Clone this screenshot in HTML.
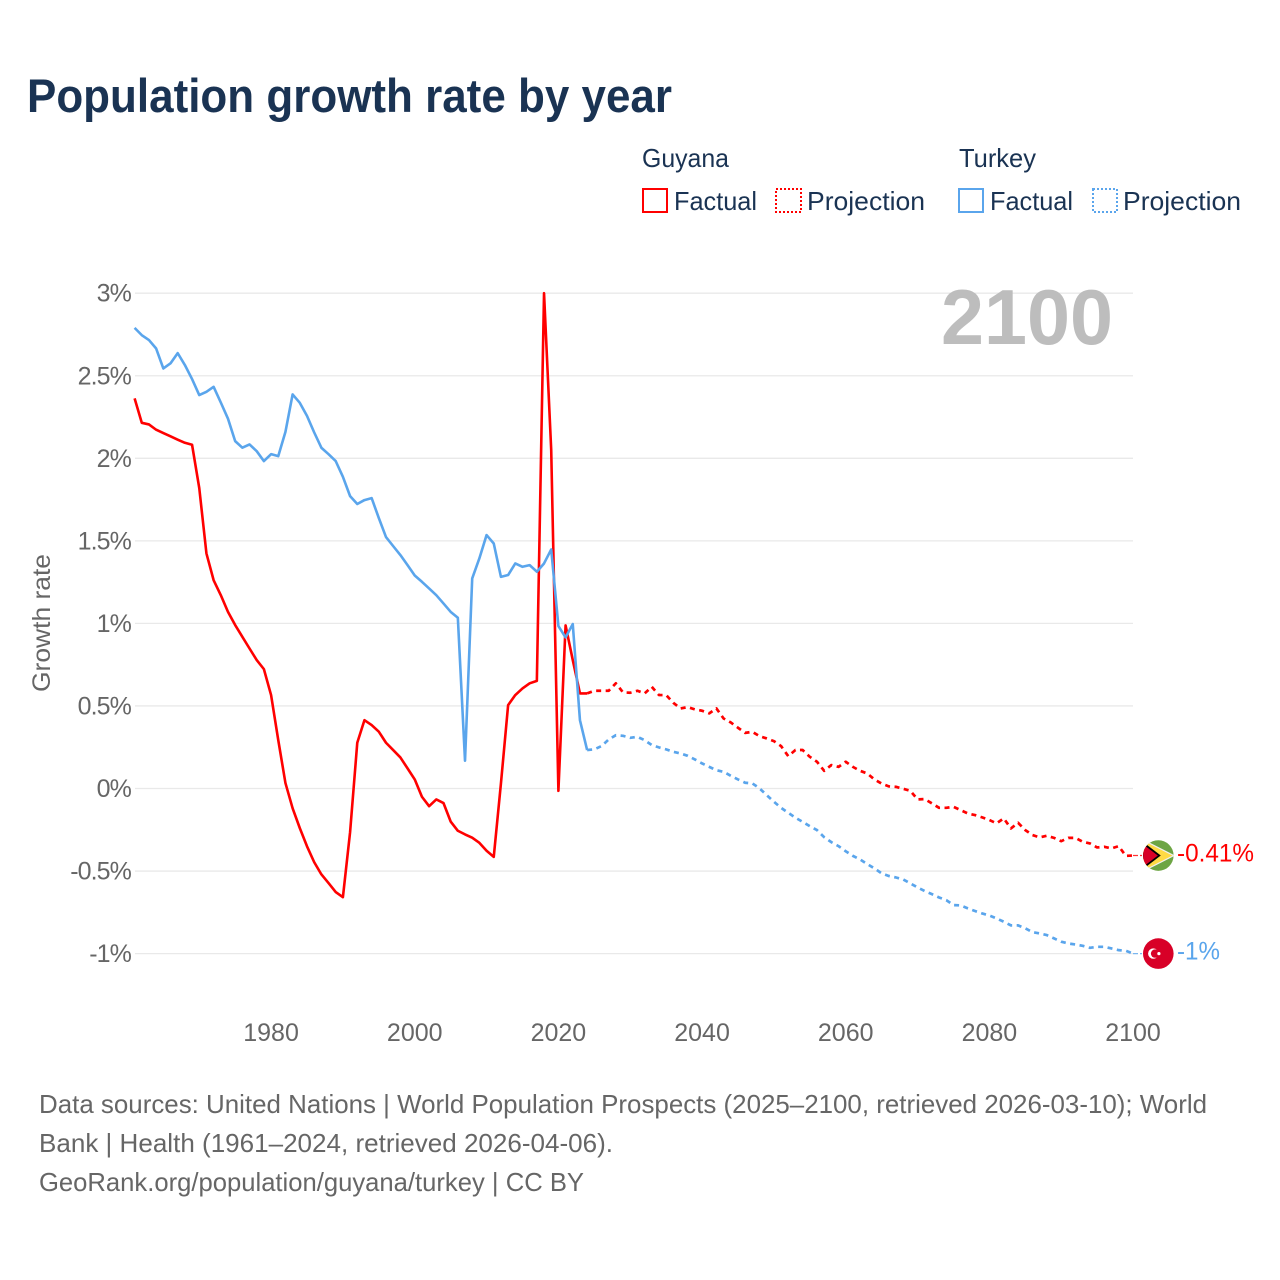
<!DOCTYPE html>
<html lang="en">
<head>
<meta charset="utf-8">
<title>Population growth rate by year</title>
<style>
  html, body { margin: 0; padding: 0; background: #fff; }
  svg { display: block; font-family: "Liberation Sans", sans-serif; }
  .tick { font-size: 25px; fill: #666; }
  .ytick { letter-spacing: -0.9px; }
  .legend { font-size: 26px; fill: #1a3353; }
  .foot { font-size: 26px; fill: #666; }
</style>
</head>
<body>
<svg id="chart" xmlns="http://www.w3.org/2000/svg" width="1280" height="1280" viewBox="0 0 1280 1280">
  <rect width="1280" height="1280" fill="#fff"/>
  <text x="27" y="112" font-size="47" font-weight="700" fill="#1a3353" textLength="645" lengthAdjust="spacingAndGlyphs">Population growth rate by year</text>

  <g>
    <text class="legend" x="642" y="167" textLength="87" lengthAdjust="spacingAndGlyphs">Guyana</text>
    <text class="legend" x="959" y="167" textLength="77" lengthAdjust="spacingAndGlyphs">Turkey</text>
    <rect x="643" y="189" width="24" height="23" fill="none" stroke="#ff0000" stroke-width="2"/>
    <text class="legend" x="674" y="210" textLength="83" lengthAdjust="spacingAndGlyphs">Factual</text>
    <rect x="776" y="189" width="25" height="23" fill="none" stroke="#ff0000" stroke-width="2" stroke-dasharray="2,2"/>
    <text class="legend" x="807" y="210" textLength="118" lengthAdjust="spacingAndGlyphs">Projection</text>
    <rect x="959" y="189" width="24" height="23" fill="none" stroke="#5aa5ec" stroke-width="2"/>
    <text class="legend" x="990" y="210" textLength="83" lengthAdjust="spacingAndGlyphs">Factual</text>
    <rect x="1093" y="189" width="24" height="23" fill="none" stroke="#5aa5ec" stroke-width="2" stroke-dasharray="2,2"/>
    <text class="legend" x="1123" y="210" textLength="118" lengthAdjust="spacingAndGlyphs">Projection</text>
  </g>

  <g id="grid"></g>
  <g id="yticks"></g>
  <g id="xticks"></g>

  <text transform="translate(50,692) rotate(-90)" font-size="25" fill="#666" textLength="138" lengthAdjust="spacingAndGlyphs">Growth rate</text>
  <text x="941" y="344" font-size="78" font-weight="700" fill="#bdbdbd" textLength="172" lengthAdjust="spacingAndGlyphs">2100</text>

  <g id="series"></g>

  <defs>
    <clipPath id="flag-clip"><circle cx="0" cy="0" r="15.3"/></clipPath>
  </defs>
  <g id="flag-guyana">
    <g clip-path="url(#flag-clip)">
      <rect x="-16" y="-16" width="32" height="32" fill="#6da544"/>
      <polygon points="-18,-17 15.5,0 -18,17" fill="#ffda44" stroke="#f0f0f0" stroke-width="1.2"/>
      <polygon points="-16,-13 1,0 -16,13" fill="#d80027" stroke="#000" stroke-width="1.8"/>
    </g>
  </g>
  <g id="flag-turkey">
    <circle cx="0" cy="0" r="15.3" fill="#d80027"/>
    <circle cx="-5" cy="0" r="5.2" fill="#fff"/>
    <circle cx="-3.2" cy="0" r="4.2" fill="#d80027"/>
    <circle cx="0.6" cy="0" r="1.6" fill="#fff"/>
  </g>
  <text id="end-guyana" x="1177" font-size="25" fill="#ff0000" textLength="77" lengthAdjust="spacingAndGlyphs"></text>
  <text id="end-turkey" x="1177" font-size="25" fill="#5aa5ec" textLength="43" lengthAdjust="spacingAndGlyphs"></text>

  <g>
    <text class="foot" x="39" y="1113" textLength="1168" lengthAdjust="spacingAndGlyphs">Data sources: United Nations | World Population Prospects (2025–2100, retrieved 2026-03-10); World</text>
    <text class="foot" x="39" y="1152" textLength="574" lengthAdjust="spacingAndGlyphs">Bank | Health (1961–2024, retrieved 2026-04-06).</text>
    <text class="foot" x="39" y="1191" textLength="545" lengthAdjust="spacingAndGlyphs">GeoRank.org/population/guyana/turkey | CC BY</text>
  </g>
</svg>
<script>
var yTickValues = [3, 2.5, 2, 1.5, 1, 0.5, 0, -0.5, -1];
var xTickYears = [1980, 2000, 2020, 2040, 2060, 2080, 2100];
var factualStartYear = 1961;
var projectionStartYear = 2024;
var guyanaFactual = [2.363,2.215,2.205,2.173,2.153,2.133,2.113,2.094,2.082,1.82,1.424,1.262,1.171,1.07,0.99,0.919,0.848,0.778,0.723,0.566,0.293,0.033,-0.12,-0.24,-0.35,-0.446,-0.52,-0.573,-0.627,-0.658,-0.264,0.277,0.414,0.384,0.344,0.277,0.233,0.188,0.122,0.055,-0.05,-0.107,-0.066,-0.088,-0.2,-0.256,-0.278,-0.298,-0.329,-0.377,-0.414,0.03,0.505,0.566,0.606,0.637,0.652,3.0,2.05,-0.014,0.988,0.778,0.576,0.576];
var turkeyFactual = [2.79,2.746,2.716,2.665,2.544,2.575,2.637,2.565,2.48,2.383,2.403,2.433,2.338,2.24,2.104,2.064,2.084,2.043,1.983,2.025,2.013,2.16,2.387,2.336,2.257,2.157,2.064,2.025,1.983,1.888,1.771,1.723,1.747,1.759,1.638,1.523,1.468,1.414,1.353,1.29,1.252,1.212,1.171,1.121,1.07,1.034,0.168,1.272,1.394,1.535,1.484,1.282,1.293,1.363,1.343,1.353,1.313,1.363,1.448,0.984,0.915,0.996,0.414,0.233];
var guyanaProjection = [0.576,0.592,0.592,0.592,0.637,0.582,0.58,0.592,0.576,0.616,0.566,0.566,0.519,0.485,0.493,0.479,0.471,0.455,0.485,0.424,0.4,0.368,0.337,0.343,0.317,0.303,0.287,0.257,0.196,0.233,0.233,0.192,0.162,0.107,0.142,0.131,0.162,0.131,0.107,0.091,0.055,0.03,0.013,0.01,-0.002,-0.014,-0.066,-0.064,-0.09,-0.117,-0.117,-0.111,-0.131,-0.151,-0.161,-0.175,-0.191,-0.211,-0.181,-0.242,-0.208,-0.252,-0.282,-0.296,-0.286,-0.299,-0.319,-0.299,-0.299,-0.323,-0.333,-0.357,-0.353,-0.363,-0.349,-0.408,-0.406];
var turkeyProjection = [0.233,0.237,0.257,0.297,0.323,0.319,0.307,0.313,0.293,0.263,0.249,0.237,0.222,0.212,0.198,0.176,0.152,0.131,0.111,0.101,0.077,0.055,0.035,0.031,0.001,-0.04,-0.08,-0.117,-0.147,-0.177,-0.202,-0.228,-0.252,-0.295,-0.325,-0.349,-0.38,-0.408,-0.43,-0.458,-0.484,-0.514,-0.53,-0.539,-0.551,-0.575,-0.599,-0.621,-0.64,-0.66,-0.676,-0.706,-0.708,-0.726,-0.742,-0.757,-0.769,-0.787,-0.807,-0.829,-0.829,-0.847,-0.87,-0.878,-0.888,-0.908,-0.928,-0.939,-0.945,-0.953,-0.965,-0.959,-0.959,-0.969,-0.979,-0.983,-1.0];
var guyanaEndLabel = "-0.41%";
var turkeyEndLabel = "-1%";

var NS = "http://www.w3.org/2000/svg";
function xScale(year) { return 134.6 + (year - 1961) * 7.183; }
function yScale(v) { return 788.5 - v * 165.1; }
function make(tag, attrs, parent) {
  var el = document.createElementNS(NS, tag);
  for (var k in attrs) el.setAttribute(k, attrs[k]);
  parent.appendChild(el);
  return el;
}
function linePath(values, startYear) {
  return values.map(function (v, i) {
    return (i ? "L" : "M") + xScale(startYear + i).toFixed(2) + " " + yScale(v).toFixed(2);
  }).join(" ");
}

var gridG = document.getElementById("grid");
var yG = document.getElementById("yticks");
yTickValues.forEach(function (v) {
  var line = make("line", {x1: 135, x2: 1133, y1: yScale(v), y2: yScale(v), stroke: "#e9e9e9", "stroke-width": 1.3}, gridG);
  
  
  var t = make("text", {"class": "tick ytick", x: 131, y: yScale(v) + 8.5, "text-anchor": "end"}, yG);
  
  
  t.textContent = v + "%";
});

var xG = document.getElementById("xticks");
xTickYears.forEach(function (yr) {
  var t = make("text", {"class": "tick", x: xScale(yr), y: 1041, "text-anchor": "middle"}, xG);
  
  
  t.textContent = yr;
});

var seriesG = document.getElementById("series");
function drawSeries(name, color, factual, projection) {
  var p = make("path", {d: linePath(projection, projectionStartYear), fill: "none", stroke: color, "stroke-width": 2.7, "stroke-dasharray": "5,4.5", "stroke-linejoin": "round"}, seriesG);
  
  
  var f = make("path", {d: linePath(factual, factualStartYear), fill: "none", stroke: color, "stroke-width": 2.6, "stroke-linejoin": "round"}, seriesG);
  
  
  var endV = projection[projection.length - 1];
  var c = make("line", {x1: 1133, x2: 1142, y1: yScale(endV), y2: yScale(endV), stroke: color, "stroke-width": 1.2, "stroke-dasharray": "5,2", opacity: 0.8}, seriesG);
  
  
  document.getElementById("flag-" + name).setAttribute("transform", "translate(1158.3," + yScale(endV) + ")");
  var label = document.getElementById("end-" + name);
  label.setAttribute("y", yScale(endV) + 6);
  return label;
}
drawSeries("guyana", "#ff0000", guyanaFactual, guyanaProjection).textContent = guyanaEndLabel;
drawSeries("turkey", "#5aa5ec", turkeyFactual, turkeyProjection).textContent = turkeyEndLabel;
</script>
</body>
</html>
